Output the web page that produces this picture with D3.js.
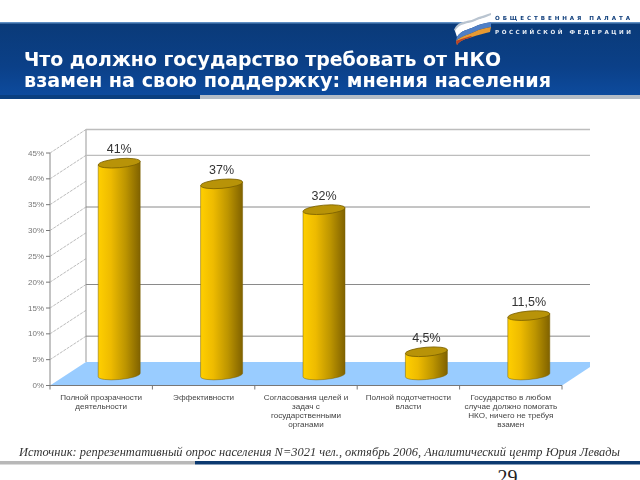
<!DOCTYPE html>
<html><head><meta charset="utf-8">
<style>html,body{margin:0;padding:0;background:#fff}svg{display:block}</style>
<script src="https://cdnjs.cloudflare.com/ajax/libs/d3/7.8.5/d3.min.js"></script>
</head><body><div id="c"></div>
<script>
const categories = [
  ["Полной прозрачности","деятельности"],
  ["Эффективности"],
  ["Согласования целей и","задач с","государственными","органами"],
  ["Полной подотчетности","власти"],
  ["Государство в любом","случае должно помогать","НКО, ничего не требуя","взамен"]
];
const values = [41,37,32,4.5,11.5];
const valueLabels = ["41%","37%","32%","4,5%","11,5%"];
const axisTicks = [0,5,10,15,20,25,30,35,40,45];
const gridTicks = [5,15,30,40,45];
const titleLines = ["Что должно государство требовать от НКО","взамен на свою поддержку: мнения населения"];
const sourceText = "Источник: репрезентативный опрос населения N=3021 чел., октябрь 2006, Аналитический центр Юрия Левады";

const W=640,H=480;
const svg=d3.select("#c").append("svg").attr("width",W).attr("height",H);
const defs=svg.append("defs");
const hg=defs.append("linearGradient").attr("id","hdr").attr("x1",0).attr("y1",0).attr("x2",0).attr("y2",1);
hg.append("stop").attr("offset",0).attr("stop-color","#0a3a78");
hg.append("stop").attr("offset",.6).attr("stop-color","#0b4088");
hg.append("stop").attr("offset",1).attr("stop-color","#0d4b9e");
const cg=defs.append("linearGradient").attr("id","cyl");
[[0,"#ffcf00"],[.3,"#eebb00"],[.65,"#bd9500"],[1,"#806200"]].forEach(d=>cg.append("stop").attr("offset",d[0]).attr("stop-color",d[1]));
defs.append("filter").attr("id","soft").attr("x","-5%").attr("y","-5%").attr("width","110%").attr("height","110%")
  .append("feGaussianBlur").attr("stdDeviation",0.45);
defs.append("filter").attr("id","softer").attr("x","-5%").attr("y","-20%").attr("width","110%").attr("height","140%")
  .append("feGaussianBlur").attr("stdDeviation",0.3);

// header
svg.append("rect").attr("x",0).attr("y",22).attr("width",W).attr("height",74).attr("fill","url(#hdr)");
svg.append("rect").attr("x",0).attr("y",22).attr("width",W).attr("height",1.5).attr("fill","#5f8fc4");
svg.append("rect").attr("x",200).attr("y",95).attr("width",440).attr("height",4).attr("fill","#b4bcc6");
svg.append("rect").attr("x",0).attr("y",95).attr("width",200).attr("height",4).attr("fill","#0a3f80");

// logo flag
const logo=svg.append("g").attr("filter","url(#softer)");
logo.append("path").attr("d","M454,30 C458,20 468,22 474,19 C480,16 486,15 491,13 L491,15 C484,18 480,19 474,22 C468,25 462,26 458,33 Z").attr("fill","#b9c4d0");
logo.append("path").attr("d","M455,31 C459,23 468,24 475,21 C481,18 486,18 491,17 L491,22 C486,23 480,24 474,27 C468,30 461,30 457,37 Z").attr("fill","#ffffff");
logo.append("path").attr("d","M457,37 C461,30 468,30 474,27 C480,24 486,23 491,22 L491,27 C486,28 480,29 474,32 C468,35 461,36 456,41 Z").attr("fill","#4f7fc6");
logo.append("path").attr("d","M456,41 C461,36 468,35 474,32 C480,29 486,28 491,27 L490,32 C485,33 478,35 472,37 C466,39 460,40 457,45 Z").attr("fill","#e89a30");
logo.append("path").attr("d","M456,41 C460,39 466,38 471,36 L472,37 C466,39 460,40 457,45 Z").attr("fill","#b8402a");
svg.append("text").attr("x",495).attr("y",19.5).text("ОБЩЕСТВЕННАЯ ПАЛАТА")
  .attr("font-family","'DejaVu Sans'").attr("font-weight","bold").attr("font-size",5.6).attr("fill","#123f7c").attr("textLength",135).attr("filter","url(#softer)");
svg.append("text").attr("x",495).attr("y",34).text("РОССИЙСКОЙ ФЕДЕРАЦИИ")
  .attr("font-family","'DejaVu Sans'").attr("font-weight","bold").attr("font-size",5.6).attr("fill","#e8eef6").attr("textLength",136).attr("filter","url(#softer)");

// title
svg.append("g").attr("filter","url(#softer)").selectAll("text").data(titleLines).join("text")
  .attr("x",24).attr("y",(d,i)=>65.5+i*21).text(d=>d)
  .attr("font-family","'DejaVu Sans'").attr("font-weight","bold").attr("font-size",20).attr("fill","#fff")
  .attr("textLength",(d,i)=>i?527:477).attr("lengthAdjust","spacingAndGlyphs");

// chart geometry
const x0=50,x1=562,dx=36,dy=23.5;
const yFront=d3.scaleLinear().domain([0,45]).range([385.5,153]);
const yBack=v=>yFront(v)-dy;
const xBand=d3.scaleBand().domain(d3.range(values.length)).range([x0,x1]);
const chart=svg.append("g");
// floor
chart.append("path").attr("d",`M${x0},${yFront(0)}L${x0+dx},${yBack(0)}L${x1+28},${yBack(0)}L${x1+28},${yBack(0)+5}L${x1},${yFront(0)}Z`).attr("fill","#99ccff");
// walls and gridlines
chart.append("line").attr("x1",x0+dx).attr("x2",x0+dx).attr("y1",yBack(0)).attr("y2",yBack(45)).attr("stroke","#999");
chart.append("line").attr("x1",x0).attr("x2",x0).attr("y1",yFront(0)).attr("y2",yFront(45)).attr("stroke","#888");
chart.append("line").attr("x1",x0).attr("x2",x1).attr("y1",yFront(0)).attr("y2",yFront(0)).attr("stroke","#777");
chart.append("g").selectAll("line").data(gridTicks).join("line")
  .attr("x1",x0+dx).attr("x2",x1+28).attr("y1",yBack).attr("y2",yBack)
  .attr("stroke",d=>(d>=40?"#bdbdbd":"#8a8a8a")).attr("stroke-width",d=>d>=40?1.3:1);
// side-wall dashes
chart.append("g").selectAll("line").data(axisTicks.slice(1)).join("line")
  .attr("x1",x0).attr("y1",yFront).attr("x2",x0+dx).attr("y2",yBack)
  .attr("stroke","#aaa").attr("stroke-width",.8).attr("stroke-dasharray","3 1");
// axis ticks
chart.append("g").selectAll("line").data(axisTicks).join("line")
  .attr("x1",x0-4).attr("x2",x0).attr("y1",yFront).attr("y2",yFront).attr("stroke","#777");
chart.append("g").selectAll("line").data(d3.range(values.length+1)).join("line")
  .attr("x1",(d,i)=>x0+i*xBand.step()).attr("x2",(d,i)=>x0+i*xBand.step())
  .attr("y1",yFront(0)).attr("y2",yFront(0)+4).attr("stroke","#777");
chart.append("g").attr("filter","url(#soft)").selectAll("text").data(axisTicks).join("text")
  .attr("x",x0-6).attr("y",d=>yFront(d)+2.5).attr("text-anchor","end").text(d=>d+"%")
  .attr("font-family","'Liberation Sans'").attr("font-size",8).attr("fill","#777");

// cylinders
const barW=42,ry=4.5,rot=-5;
const yBar=v=>yFront(v)-10.5;
const bars=chart.append("g").selectAll("g").data(values).join("g")
  .attr("transform",(d,i)=>`translate(${xBand(i)+xBand.bandwidth()/2+18},0)`);
bars.append("path").attr("d",d=>`M${-barW/2},${yBar(d)+1.8}L${-barW/2},${yBar(0)+1.8}A${barW/2},${ry},${rot},0,0,${barW/2},${yBar(0)-1.8}L${barW/2},${yBar(d)-1.8}Z`)
  .attr("fill","url(#cyl)").attr("stroke","#7a6000").attr("stroke-width",.5);
bars.append("ellipse").attr("rx",barW/2).attr("ry",ry).attr("cx",0).attr("cy",0)
  .attr("transform",d=>`translate(0,${yBar(d)}) rotate(${rot})`)
  .attr("fill","#b89308").attr("stroke","#7a6000").attr("stroke-width",.8);
bars.append("text").attr("x",0).attr("y",d=>yBar(d)-10).attr("text-anchor","middle")
  .text((d,i)=>valueLabels[i]).attr("font-family","'Liberation Sans'").attr("font-size",12.5)
  .attr("fill","#333").attr("filter","url(#softer)");

// category labels
const cats=chart.append("g").attr("filter","url(#soft)");
categories.forEach((lines,i)=>{
  lines.forEach((s,j)=>cats.append("text")
    .attr("x",xBand(i)+xBand.bandwidth()/2).attr("y",399.5+j*9.3).attr("text-anchor","middle").text(s)
    .attr("font-family","'Liberation Sans'").attr("font-size",8.1).attr("fill","#444"));
});

// source and footer
svg.append("text").attr("x",19).attr("y",456).text(sourceText)
  .attr("font-family","'Liberation Serif'").attr("font-style","italic").attr("font-size",12.5).attr("fill","#333")
  .attr("textLength",601).attr("lengthAdjust","spacingAndGlyphs").attr("filter","url(#softer)");
svg.append("rect").attr("x",0).attr("y",461).attr("width",195).attr("height",3.5).attr("fill","#b8b8b8");
svg.append("rect").attr("x",195).attr("y",461).attr("width",445).attr("height",3.5).attr("fill","#0c3a70");
svg.append("text").attr("x",497.5).attr("y",483.5).text("29").attr("font-family","'Liberation Serif'").attr("font-size",20).attr("fill","#222");
</script></body></html>
